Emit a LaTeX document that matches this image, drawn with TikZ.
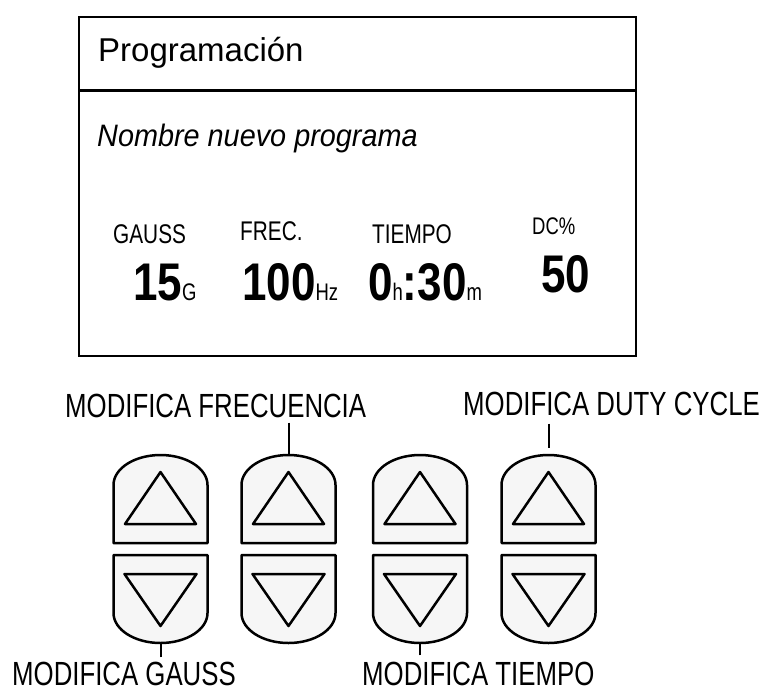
\documentclass[tikz,border=0pt]{standalone}
\usepackage{fontspec}
\setmainfont{Liberation Sans}
\newfontfamily\condfont[FakeStretch=0.77]{Liberation Sans}
\newfontfamily\numfont[FakeStretch=0.83]{Liberation Sans}
\newfontfamily\namefont[FakeStretch=0.93]{Liberation Sans}
\usetikzlibrary{positioning}
\tikzstyle{screentext} = [inner sep=0pt, anchor=base west]
\tikzstyle{fieldlabel} = [screentext, font=\condfont\fontsize{27pt}{31pt}\selectfont]
\tikzstyle{fieldvalue} = [screentext, font=\numfont\bfseries\fontsize{53pt}{60pt}\selectfont]
\tikzstyle{keylabel} = [screentext, font=\condfont\fontsize{33.5pt}{40pt}\selectfont]
\tikzstyle{keybox} = [draw=black, line width=2.5pt, fill=gray!7, line join=round]
\tikzstyle{leader} = [line width=2pt]
\newcommand{\unitsz}[1]{{\condfont\mdseries\fontsize{24pt}{28pt}\selectfont #1}}

\begin{document}
\begin{tikzpicture}[x=1pt, y=1pt]
      \useasboundingbox (0,0) rectangle (762,-693);

      % display
      \node (screen) [draw, line width=2pt, minimum width=557pt, minimum height=339pt, anchor=north west, inner sep=0pt] at (78,-16) {};
      \coordinate (divl) at (78,-90);
      \coordinate (divr) at (635,-90);
      \draw [line width=3pt] (divl) -- (divr);

      \node (title) [screentext, font=\fontsize{33pt}{38pt}\selectfont] at (98,-61) {Programación};
      \node (progname) [screentext, font=\namefont\itshape\fontsize{31pt}{36pt}\selectfont] at (97,-146) {Nombre nuevo programa};

      \node (gauss) [fieldlabel] at (113,-243) {GAUSS};
      \node (frec) [fieldlabel] at (240,-240) {FREC.};
      \node (tiempo) [fieldlabel] at (372,-243) {TIEMPO};
      \node (dc) [fieldlabel, font=\condfont\fontsize{24pt}{28pt}\selectfont] at (532,-234) {DC\%};

      \node (gaussval) [fieldvalue] at (133,-300) {15\unitsz{G}};
      \node (frecval) [fieldvalue] at (242,-300) {100\unitsz{Hz}};
      \node (tiempoval) [fieldvalue] at (368,-300) {0\unitsz{h}:30\unitsz{m}};
      \node (dcval) [fieldvalue] at (541,-292) {50};

      % keys
      \foreach \cx [count=\i] in {160.5,288.5,420,548.5} {
        \draw [keybox] (\cx-47,-543) -- (\cx-47,-485) arc[start angle=180, end angle=0, x radius=47pt, y radius=30pt] -- (\cx+47,-543) -- cycle;
        \draw [keybox] (\cx-35.5,-524) -- (\cx,-472) -- (\cx+35.5,-524) -- cycle;
        \draw [keybox] (\cx-47,-555) -- (\cx-47,-613) arc[start angle=180, end angle=360, x radius=47pt, y radius=30pt] -- (\cx+47,-555) -- cycle;
        \draw [keybox] (\cx-36,-574) -- (\cx,-626) -- (\cx+36,-574) -- cycle;
        \coordinate (uptop\i) at (\cx,-455);
        \coordinate (downbot\i) at (\cx,-643);
      }

      \node (modfrec) [keylabel] at (65,-417) {MODIFICA FRECUENCIA};
      \node (moddc) [keylabel] at (463,-415) {MODIFICA DUTY CYCLE};
      \node (modgauss) [keylabel] at (12,-685) {MODIFICA GAUSS};
      \node (modtiempo) [keylabel] at (362,-685) {MODIFICA TIEMPO};

      \draw [leader, shorten <=5pt] (modfrec.south -| uptop2) -- (uptop2);
      \draw [leader, shorten <=8pt, shorten >=7pt] (moddc.south -| uptop4) -- (uptop4);
      \draw [leader, shorten <=4pt] (modgauss.north -| downbot1) -- (downbot1);
      \draw [leader, shorten <=6pt] (modtiempo.north -| downbot3) -- (downbot3);
    \end{tikzpicture}
\end{document}
